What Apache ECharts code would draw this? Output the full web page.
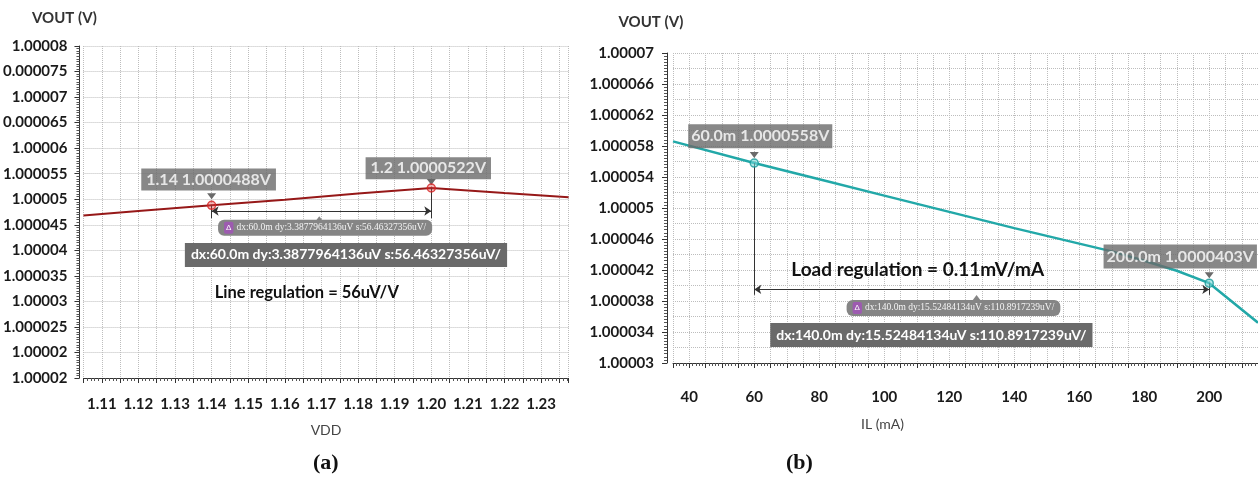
<!DOCTYPE html>
<html><head><meta charset="utf-8">
<script src="https://cdn.jsdelivr.net/npm/echarts@6/dist/echarts.min.js"></script>
<style>html,body{margin:0;padding:0;background:#fff}#c{width:1258px;height:483px}</style>
</head><body><div id="c"></div>
<script>
// ---------- data: panel (a) line regulation ----------
const vddA  = [1.105, 1.12, 1.14, 1.16, 1.18, 1.20, 1.22, 1.2375];
const voutA = [1.0000468, 1.0000477, 1.0000488, 1.0000499, 1.0000511, 1.0000522, 1.0000512, 1.0000504];
const markVddA  = [1.14, 1.2];
const markVoutA = [1.0000488, 1.0000522];
const calloutA  = ['1.14 1.0000488V', '1.2 1.0000522V'];
const xTickLabelsA = ['1.11','1.12','1.13','1.14','1.15','1.16','1.17','1.18','1.19','1.20','1.21','1.22','1.23'];
const yTickLabelsA = ['1.00002','1.00002','1.000025','1.00003','1.000035','1.00004','1.000045','1.00005','1.000055','1.00006','0.000065','1.00007','0.000075','1.00008'];
const measureTextA = 'dx:60.0m dy:3.3877964136uV s:56.46327356uV/';
const regTextA = 'Line regulation = 56uV/V';

// ---------- data: panel (b) load regulation ----------
const ilB   = [35, 60, 80, 100, 120, 140, 160, 170, 180, 190, 200, 215];
const voutB = [1.0000586, 1.0000558, 1.0000537, 1.0000516, 1.0000495, 1.0000474, 1.0000454, 1.0000444, 1.0000432, 1.0000419, 1.0000403, 1.0000352];
const markIlB   = [60, 200];
const markVoutB = [1.0000558, 1.0000403];
const calloutB  = ['60.0m 1.0000558V', '200.0m 1.0000403V'];
const xTickLabelsB = ['40','60','80','100','120','140','160','180','200'];
const yTickLabelsB = ['1.00003','1.000034','1.000038','1.000042','1.000046','1.00005','1.000054','1.000058','1.000062','1.000066','1.00007'];
const measureTextB = 'dx:140.0m dy:15.52484134uV s:110.8917239uV/';
const regTextB = 'Load regulation = 0.11mV/mA';

// axis units: microvolts above each panel's bottom tick
const BASE_A = 1.000015, BASE_B = 1.00003;
const uA = v => +((v - BASE_A) * 1e6).toFixed(4);
const uB = v => +((v - BASE_B) * 1e6).toFixed(4);

const FONT = 'Lato, "Open Sans", sans-serif';
const tickLabel = {fontFamily: FONT, fontSize: 15, fontWeight: 'bold', color: '#1a1a1a'};
const grid = {type: 'dotted', color: '#bdbdbd', width: 1};
const BOX = '#6a6a6a', BADGE = '#858585';

function labelAt(labels, first, step) {
  return function (v) {
    const k = (v - first) / step, r = Math.round(k);
    if (Math.abs(k - r) < 1e-3 && r >= 0 && r < labels.length) return labels[r];
    return '';
  };
}
function boxLabel(text, size) {
  return {show: true, position: 'inside', formatter: text, backgroundColor: BOX, color: '#fff',
          fontFamily: FONT, fontWeight: 'bold', fontSize: size, padding: [5, 6]};
}
function badgeLabel(text) {
  return {show: true, position: 'inside', formatter: '{i|Δ}{t|' + text + '}',
          backgroundColor: BADGE, borderRadius: 6, padding: [2, 6],
          rich: {i: {backgroundColor: '#9d5bb0', color: '#fff', fontSize: 8, padding: [2, 2], borderRadius: 2},
                 t: {fontFamily: '"Liberation Serif", serif', fontSize: 9.5, color: '#f4f4f4', padding: [0, 0, 0, 3]}}};
}
function textLabel(text, size) {
  return {show: true, position: 'inside', formatter: text, color: '#111', fontFamily: FONT, fontWeight: 'bold', fontSize: size};
}
const pt = (coord, label) => ({coord: coord, symbolSize: 0, label: label});
const pointer = (coord, dy, up, color) => ({coord: coord, symbol: 'triangle', symbolRotate: up ? 0 : 180, symbolSize: [9, 6],
                                 symbolOffset: [0, dy], itemStyle: {color: color || BOX}, label: {show: false}});

// annotation anchors (data space)
const annA = {lineBottom: 1.0000463, arrowY: 1.0000477, badge: [1.171, 1.0000444], badgeTip: [1.1694, 1.0000461], box: [1.1767, 1.0000391], reg: [1.166, 1.0000318]};
const annB = {lineBottom: 1.0000388, arrowY: 1.0000395, badge: [121.3, 1.0000371], badgeTip: [128.4, 1.0000384], box: [114.5, 1.0000336], reg: [110.3, 1.000042]};

const chart = echarts.init(document.getElementById('c'));
chart.setOption({
  animation: false,
  backgroundColor: '#fff',
  grid: [
    {left: 81, top: 46, width: 487.6, height: 332},
    {left: 673, top: 53, width: 586, height: 310}
  ],
  xAxis: [
    {gridIndex: 0, type: 'value', min: 1.105, max: 1.2375, interval: 0.005,
     axisLine: {lineStyle: {color: '#333'}}, axisTick: {length: 5, lineStyle: {color: '#333'}},
     minorTick: {show: true, splitNumber: 5, length: 3, lineStyle: {color: '#555'}},
     splitLine: {show: true, lineStyle: grid},
     axisLabel: Object.assign({formatter: labelAt(xTickLabelsA, 1.11, 0.01), interval: 0, margin: 19, showMaxLabel: false}, tickLabel),
     name: 'VDD', nameLocation: 'middle', nameGap: 45, nameTextStyle: {fontFamily: FONT, fontSize: 14, color: '#444'}},
    {gridIndex: 1, type: 'value', min: 35, max: 215, interval: 5, offset: 9,
     axisLine: {lineStyle: {color: '#333'}}, axisTick: {length: 5, lineStyle: {color: '#333'}},
     minorTick: {show: true, splitNumber: 5, length: 3, lineStyle: {color: '#555'}},
     splitLine: {show: true, lineStyle: grid},
     axisLabel: Object.assign({formatter: labelAt(xTickLabelsB, 40, 20), interval: 0, margin: 18, showMaxLabel: false}, tickLabel),
     name: 'IL (mA)', nameLocation: 'middle', nameGap: 45,
     nameTextStyle: {fontFamily: FONT, fontSize: 14, color: '#444', padding: [0, 166, 0, 0]}}
  ],
  yAxis: [
    {gridIndex: 0, type: 'value', min: 0, max: 65, interval: 5, offset: 4,
     axisLine: {show: true, lineStyle: {color: '#333'}}, axisTick: {show: true, length: 5, lineStyle: {color: '#333'}},
     minorTick: {show: true, splitNumber: 10, length: 3, lineStyle: {color: '#555'}},
     splitLine: {show: true, lineStyle: grid},
     axisLabel: Object.assign({formatter: labelAt(yTickLabelsA, 0, 5), interval: 0, margin: 12}, tickLabel),
     name: 'VOUT (V)', nameLocation: 'end', nameGap: 20,
     nameTextStyle: {fontFamily: FONT, fontSize: 15, fontWeight: 'bold', color: '#333', padding: [0, 30, 0, 0]}},
    {gridIndex: 1, type: 'value', min: 0, max: 40, interval: 4, offset: 6,
     axisLine: {show: true, lineStyle: {color: '#333'}}, axisTick: {show: true, length: 5, lineStyle: {color: '#333'}},
     minorTick: {show: true, splitNumber: 10, length: 3, lineStyle: {color: '#555'}},
     splitLine: {show: false},
     axisLabel: Object.assign({formatter: labelAt(yTickLabelsB, 0, 4), interval: 0, margin: 13}, tickLabel),
     name: 'VOUT (V)', nameLocation: 'end', nameGap: 23,
     nameTextStyle: {fontFamily: FONT, fontSize: 15, fontWeight: 'bold', color: '#333', padding: [0, 32, 0, 0]}},
    {gridIndex: 1, type: 'value', min: 0, max: 40, interval: 2,
     axisLine: {show: false}, axisTick: {show: false}, axisLabel: {show: false},
     splitLine: {show: true, lineStyle: grid}}
  ],
  series: [
    {type: 'line', xAxisIndex: 0, yAxisIndex: 0, showSymbol: false, z: 3,
     data: vddA.map((x, i) => [x, uA(voutA[i])]),
     lineStyle: {color: '#961818', width: 2},
     markLine: {silent: true, symbol: ['none', 'none'], symbolSize: 7, label: {show: false},
       lineStyle: {color: '#333', width: 1, type: 'solid'}, emphasis: {disabled: true},
       data: [
         [{coord: [markVddA[0], uA(markVoutA[0])]}, {coord: [markVddA[0], uA(annA.lineBottom)]}],
         [{coord: [markVddA[1], uA(markVoutA[1])]}, {coord: [markVddA[1], uA(annA.lineBottom)]}],
         [{coord: [markVddA[0], uA(annA.arrowY)], symbol: 'arrow'}, {coord: [markVddA[1], uA(annA.arrowY)], symbol: 'arrow'}]
       ]},
     markPoint: {silent: true, data: [
       pointer([markVddA[0], uA(markVoutA[0])], -9),
       pointer([markVddA[1], uA(markVoutA[1])], -6),
       pointer([annA.badgeTip[0], uA(annA.badgeTip[1])], 0, true, BADGE),
       pt([annA.badge[0], uA(annA.badge[1])], badgeLabel(measureTextA)),
       pt([annA.box[0], uA(annA.box[1])], boxLabel(measureTextA, 14)),
       pt([annA.reg[0], uA(annA.reg[1])], textLabel(regTextA, 16.5))
     ]}},
    {type: 'scatter', xAxisIndex: 0, yAxisIndex: 0, z: 5, symbol: 'circle', symbolSize: 8,
     itemStyle: {color: 'rgba(230,60,60,0.45)', borderColor: '#d62020', borderWidth: 1.5},
     data: markVddA.map((x, i) => ({value: [x, uA(markVoutA[i])],
       label: {show: true, position: 'top', distance: i === 0 ? 10 : 4, offset: [-3, 0], formatter: calloutA[i],
               backgroundColor: BOX, color: '#fff', fontFamily: FONT, fontWeight: 'bold', fontSize: 16, padding: [3, 5]}}))},
    {type: 'line', xAxisIndex: 1, yAxisIndex: 1, showSymbol: false, z: 3,
     data: ilB.map((x, i) => [x, uB(voutB[i])]),
     lineStyle: {color: '#22a8a8', width: 2.5},
     markLine: {silent: true, symbol: ['none', 'none'], symbolSize: 7, label: {show: false},
       lineStyle: {color: '#333', width: 1, type: 'solid'}, emphasis: {disabled: true},
       data: [
         [{coord: [markIlB[0], uB(markVoutB[0])]}, {coord: [markIlB[0], uB(annB.lineBottom)]}],
         [{coord: [markIlB[1], uB(markVoutB[1])]}, {coord: [markIlB[1], uB(annB.lineBottom)]}],
         [{coord: [markIlB[0], uB(annB.arrowY)], symbol: 'arrow'}, {coord: [markIlB[1], uB(annB.arrowY)], symbol: 'arrow'}]
       ]},
     markPoint: {silent: true, data: [
       pointer([markIlB[0], uB(markVoutB[0])], -8),
       pointer([markIlB[1], uB(markVoutB[1])], -8),
       pointer([annB.badgeTip[0], uB(annB.badgeTip[1])], 0, true, BADGE),
       pt([annB.badge[0], uB(annB.badge[1])], badgeLabel(measureTextB)),
       pt([annB.box[0], uB(annB.box[1])], boxLabel(measureTextB, 14)),
       pt([annB.reg[0], uB(annB.reg[1])], textLabel(regTextB, 19))
     ]}},
    {type: 'scatter', xAxisIndex: 1, yAxisIndex: 1, z: 5, symbol: 'circle', symbolSize: 8,
     itemStyle: {color: 'rgba(120,215,215,0.7)', borderColor: '#1a9a9a', borderWidth: 1.5},
     data: markIlB.map((x, i) => ({value: [x, uB(markVoutB[i])],
       label: {show: true, position: 'top', distance: 10, offset: [i === 0 ? 6 : -29, 0], formatter: calloutB[i],
               backgroundColor: BOX, color: '#fff', fontFamily: FONT, fontWeight: 'bold', fontSize: 16, padding: [4, 3]}}))}
  ],
  graphic: [
    {type: 'text', left: 313, top: 452, style: {text: '(a)', font: 'bold 22px "Liberation Serif", serif', fill: '#111'}},
    {type: 'text', left: 786, top: 452, style: {text: '(b)', font: 'bold 22px "Liberation Serif", serif', fill: '#111'}}
  ]
});
</script></body></html>
